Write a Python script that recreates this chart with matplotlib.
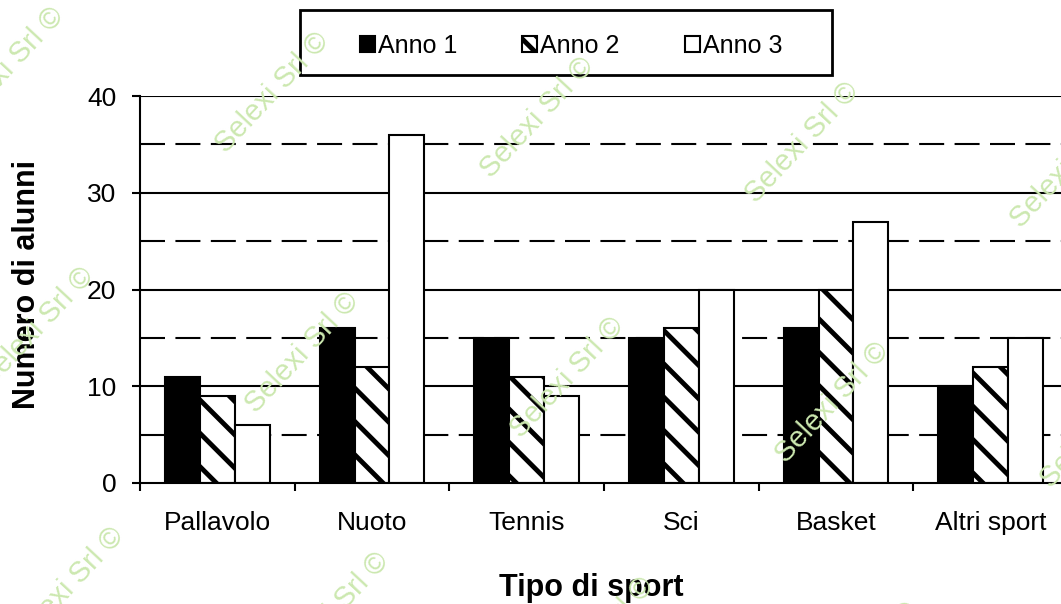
import matplotlib.pyplot as plt
from matplotlib.patches import Rectangle, Patch

plt.rcParams['font.family'] = ['Liberation Sans', 'DejaVu Sans']
plt.rcParams['hatch.linewidth'] = 3.5

sports = ['Pallavolo', 'Nuoto', 'Tennis', 'Sci', 'Basket', 'Altri sport']
anno1 = [11, 16, 15, 15, 16, 10]
anno2 = [9, 12, 11, 16, 20, 12]
anno3 = [6, 36, 9, 20, 27, 15]
series_names = ['Anno 1', 'Anno 2', 'Anno 3']

W, H = 1061, 604
fig = plt.figure(figsize=(W / 100, H / 100), dpi=100)
ax = fig.add_axes([140 / W, 1 - 483 / H, (1068 - 140) / W, (483 - 96) / H])

# grid: solid every 10, dashed in between
for y in [10, 20, 30, 40]:
    ax.axhline(y, color='black', lw=1.5, zorder=0)
for y in [5, 15, 25, 35]:
    ax.axhline(y, color='black', lw=1.5, ls=(0, (12, 5)), zorder=0)

bar_w = 0.225
x = range(len(sports))
styles = [dict(facecolor='black'),
          dict(facecolor='white', hatch='\\'),
          dict(facecolor='white')]
for k, vals in enumerate([anno1, anno2, anno3]):
    ax.bar([i + (k - 1) * bar_w for i in x], vals, bar_w,
           edgecolor='black', linewidth=1.5, zorder=2, **styles[k])

ax.set_xlim(-0.5, len(sports) - 0.5)
ax.set_ylim(0, 40)
ax.set_yticks([0, 10, 20, 30, 40])
ax.set_xticks([i - 0.5 for i in range(len(sports) + 1)])
ax.set_xticklabels([])
ax.set_xticks(list(x), minor=True)
ax.set_xticklabels(sports, minor=True)
ax.tick_params(axis='both', which='major', length=6, width=1.5, labelsize=19)
ax.tick_params(axis='x', which='minor', length=0, pad=20, labelsize=19)
ax.tick_params(axis='y', pad=11)

for s in ['top', 'right']:
    ax.spines[s].set_visible(False)
for s in ['left', 'bottom']:
    ax.spines[s].set_linewidth(1.5)

ax.set_xlabel('Tipo di sport', fontsize=22, fontweight='bold')
ax.xaxis.set_label_coords(0.486, -0.232)
ax.set_ylabel('Numero di alunni', fontsize=22, fontweight='bold')
ax.yaxis.set_label_coords(-0.106, 0.512)

# legend in a box at the top
fig.patches.append(Rectangle((300 / W, 1 - 75 / H), 532 / W, 65 / H,
                             transform=fig.transFigure, fill=False,
                             edgecolor='black', lw=2))
leg_styles = [dict(facecolor='black'),
              dict(facecolor='white', hatch='\\\\'),
              dict(facecolor='white')]
handles = [Patch(edgecolor='black', linewidth=1.5, **st) for st in leg_styles]
fig.legend(handles, series_names, loc='center',
           bbox_to_anchor=(571 / W, 1 - 46 / H), ncol=3, frameon=False,
           fontsize=18, handlelength=0.6, handleheight=0.6,
           handletextpad=0.12, columnspacing=2.6)

# watermark
for j in range(-1, 3):
    for i in range(-1, 4):
        cx = 272 + 265 * i + 30 * j
        cy = 93 + 25 * i + 260 * j
        fig.text(cx / W, 1 - cy / H, 'Selexi Srl ©', rotation=47,
                 color='#cce8b0', fontsize=21, ha='center', va='center',
                 rotation_mode='anchor', zorder=10)

plt.savefig('out.png', dpi=100)
